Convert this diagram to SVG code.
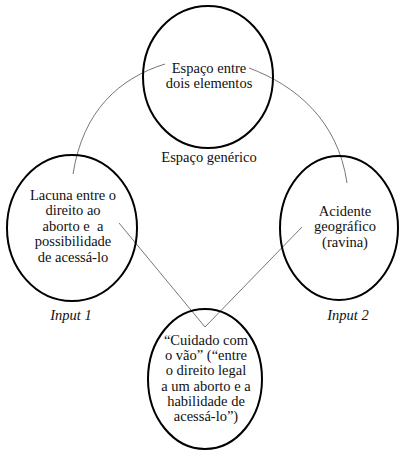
<svg xmlns="http://www.w3.org/2000/svg" width="399" height="452" viewBox="0 0 399 452">
<style>
.n{fill:none;stroke:#000;stroke-width:2}
.c{fill:none;stroke:#777;stroke-width:1}
.t{font-family:'Liberation Serif','DejaVu Serif',serif;font-size:14.5px;fill:#111;text-anchor:middle}
.i{font-style:italic}
</style>
<rect width="399" height="452" fill="#fff"/>
<g id="connectors">
<path class="c" d="M165,64 C120,78 83,110 73,174"/>
<path class="c" d="M249,68 C295,85 338,120 347,183"/>
<path class="c" d="M119,223 L205,327 L302,227"/>
</g>
<g class="t" font-family="Liberation Serif, DejaVu Serif, serif">
<g id="generic">
<ellipse class="n" cx="208" cy="77" rx="65" ry="71"/>
<text x="209" y="73">Espaço entre</text>
<text x="209" y="88">dois elementos</text>
</g>
<text x="209" y="162">Espaço genérico</text>
<g id="input1">
<ellipse class="n" cx="72" cy="228" rx="65" ry="73"/>
<text x="73" y="200">Lacuna entre o</text>
<text x="73" y="215">direito ao</text>
<text x="73" y="231" xml:space="preserve">aborto e  a</text>
<text x="73" y="246">possibilidade</text>
<text x="73" y="262">de acessá-lo</text>
</g>
<text class="i" x="71" y="320">Input 1</text>
<g id="input2">
<ellipse class="n" cx="339" cy="228" rx="59" ry="72"/>
<text x="345" y="216">Acidente</text>
<text x="345" y="231">geográfico</text>
<text x="345" y="247">(ravina)</text>
</g>
<text class="i" x="348" y="320">Input 2</text>
<g id="blend">
<ellipse class="n" cx="205" cy="379" rx="57" ry="70"/>
<text x="206" y="345">“Cuidado com</text>
<text x="206" y="360">o vão” (“entre</text>
<text x="206" y="375">o direito legal</text>
<text x="206" y="391">a um aborto e a</text>
<text x="206" y="406">habilidade de</text>
<text x="206" y="421">acessá-lo”)</text>
</g>
</g>
</svg>
